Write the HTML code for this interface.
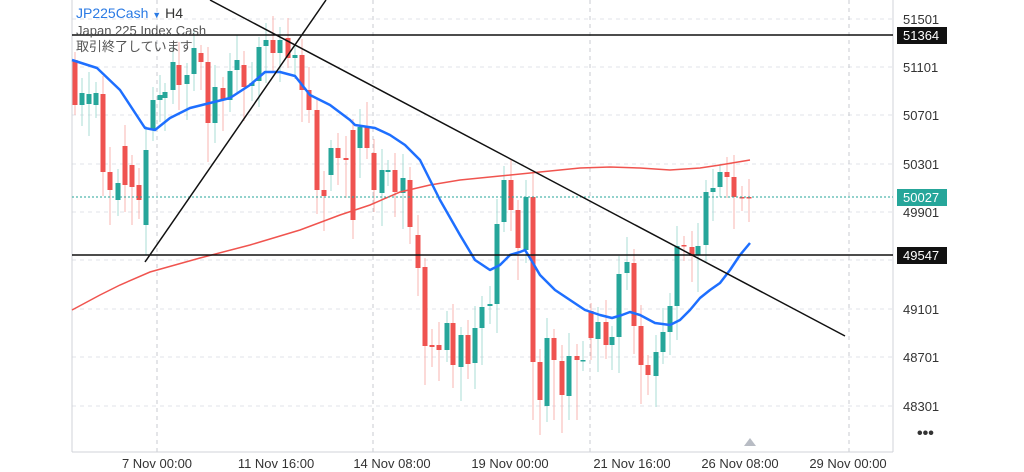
<!DOCTYPE html><html><head><meta charset="utf-8"><style>
body{margin:0;background:#fff;font-family:"Liberation Sans","Noto Sans CJK JP",sans-serif}
svg{display:block}
</style></head><body>
<svg id="s" width="1024" height="472" viewBox="0 0 1024 472" font-family="Liberation Sans, Noto Sans CJK JP, sans-serif">
<rect width="1024" height="472" fill="#fff"/>
<g stroke="#e0e3e8" stroke-dasharray="4,4" stroke-width="1">
<line x1="72" x2="893" y1="19" y2="19"/><line x1="72" x2="893" y1="67" y2="67"/><line x1="72" x2="893" y1="115" y2="115"/><line x1="72" x2="893" y1="164" y2="164"/><line x1="72" x2="893" y1="212" y2="212"/><line x1="72" x2="893" y1="260" y2="260"/><line x1="72" x2="893" y1="309" y2="309"/><line x1="72" x2="893" y1="357" y2="357"/><line x1="72" x2="893" y1="406" y2="406"/>
</g>
<g stroke="#c8cbd0" stroke-dasharray="4,4"><line x1="157" x2="157" y1="0" y2="452"/><line x1="373" x2="373" y1="0" y2="452"/><line x1="590" x2="590" y1="0" y2="452"/><line x1="849" x2="849" y1="0" y2="452"/></g>
<line x1="72" y1="0" x2="72" y2="452" stroke="#d0d3d8"/>
<line x1="72" y1="452" x2="893" y2="452" stroke="#d0d3d8"/>
<line x1="893" y1="0" x2="893" y2="452" stroke="#d0d3d8"/>
<g id="c"></g>
<polyline fill="none" stroke="#f0544f" stroke-width="1.5" points="72,310 100,295 120,285 150,272 200,258 250,245 300,230 340,215 370,205 400,192 430,185 460,180 500,176 540,172 580,168 610,167 640,168 670,170 700,168 720,165 750,160"/>
<polyline fill="none" stroke="#1e6fff" stroke-width="2.5" stroke-linejoin="round" points="72,60 97,68 120,90 145,128 155,130 170,118 190,108 210,103 230,98 250,85 265,72 280,72 295,76 310,95 330,105 350,120 355,125 375,128 390,135 405,145 420,160 440,200 460,235 475,260 490,270 500,265 510,255 520,252 525,250 530,258 540,275 555,290 570,300 585,310 600,315 612,318 622,315 630,312 640,315 655,323 670,325 680,320 690,310 700,298 710,290 720,283 730,270 740,255 750,243"/>
<line x1="72" y1="35" x2="893" y2="35" stroke="#111" stroke-width="1.5"/>
<line x1="72" y1="255" x2="893" y2="255" stroke="#111" stroke-width="1.5"/>
<line x1="72" y1="197" x2="893" y2="197" stroke="#26a69a" stroke-dasharray="2,2"/>
<line x1="145" y1="262" x2="326" y2="0" stroke="#111" stroke-width="1.5"/>
<line x1="210" y1="0" x2="845" y2="336" stroke="#111" stroke-width="1.5"/>
<g font-size="13" fill="#333">
<text x="903" y="24">51501</text><text x="903" y="72">51101</text><text x="903" y="120">50701</text><text x="903" y="169">50301</text><text x="903" y="217">49901</text><text x="903" y="314">49101</text><text x="903" y="362">48701</text><text x="903" y="411">48301</text>
</g>
<rect x="897" y="27" width="50" height="17" fill="#111"/><text x="903" y="40" font-size="13" fill="#fff">51364</text>
<rect x="897" y="189" width="50" height="17" fill="#26a69a"/><text x="903" y="202" font-size="13" fill="#fff">50027</text>
<rect x="897" y="247" width="50" height="17" fill="#111"/><text x="903" y="260" font-size="13" fill="#fff">49547</text>
<text x="917" y="438" font-size="16" fill="#333" font-weight="bold">•••</text>
<polygon points="744,446 756,446 750,438" fill="#b8bcc4"/>
<g font-size="13" fill="#333" text-anchor="middle">
<text x="157" y="468">7 Nov 00:00</text><text x="276" y="468">11 Nov 16:00</text><text x="392" y="468">14 Nov 08:00</text><text x="510" y="468">19 Nov 00:00</text><text x="632" y="468">21 Nov 16:00</text><text x="740" y="468">26 Nov 08:00</text><text x="848" y="468">29 Nov 00:00</text>
</g>
<text x="76" y="18" font-size="14" fill="#2a7ae4">JP225Cash <tspan font-size="9">▼</tspan> <tspan fill="#333">H4</tspan></text>
<text x="76" y="35" font-size="13" fill="#555">Japan 225 Index Cash</text>
<text x="76" y="51" font-size="13" fill="#555">取引終了しています</text>
</svg>
<script>
var d=[[75,60,105],[82,105,93],[89,104,94],[96,105,93],[103,94,172],[110,172,190],[118,200,183],[125,146,185],[132,165,187],[139,185,200],[146,225,150],[153,130,100],[160,100,95],[165,98,92],[173,90,62],[179,65,85],[187,84,75],[194,74,48],[201,53,62],[208,62,123],[215,123,87],[223,88,100],[230,100,71],[237,70,60],[244,65,87],[252,86,83],[259,81,47],[266,46,40],[273,40,53],[280,53,40],[288,38,58],[295,58,55],[302,55,90],[309,90,110],[317,110,190],[324,190,196],[331,175,148],[338,148,158],[346,158,160],[353,130,220],[360,148,127],[367,127,148],[374,153,190],[382,193,170],[388,172,170],[395,170,192],[403,193,178],[410,180,227],[418,235,268],[425,267,346],[432,345,347],[439,345,350],[447,350,323],[453,323,365],[461,367,335],[468,335,364],[475,363,328],[482,328,307],[490,306,304],[497,304,224],[504,222,180],[511,180,210],[518,210,248],[526,250,197],[533,197,362],[540,362,400],[547,406,338],[554,338,360],[562,361,395],[569,396,356],[577,356,360],[583,360,360],[591,311,338],[598,339,322],[606,322,345],[612,345,337],[619,337,274],[627,273,262],[634,263,326],[641,326,365],[648,365,375],[656,376,352],[663,352,332],[670,332,306],[677,306,246],[684,245,246],[692,247,256],[698,255,246],[706,245,192],[713,192,188],[720,187,172],[727,172,177],[734,177,197],[742,197,198],[749,197,198]];
var g=document.getElementById('c'),h='';
d.forEach(function(c,i){var o=c[1],cl=c[2],up=cl<=o;var col=up?'#26a69a':'#ef5350';var wc=up?'#a8dcd6':'#f8b4b2';
var t=Math.min(o,cl),b=Math.max(o,cl);var hi=t-(8+(i*7)%18),lo=b+(10+(i*11)%30);
if(c[0]>530&&c[0]<580)lo=Math.max(lo,420);
h+='<line x1="'+c[0]+'" x2="'+c[0]+'" y1="'+hi+'" y2="'+lo+'" stroke="'+wc+'"/>';
h+='<rect x="'+(c[0]-2.5)+'" y="'+t+'" width="5" height="'+Math.max(b-t,1.5)+'" fill="'+col+'"/>';});
g.innerHTML=h;
</script>
</body></html>
